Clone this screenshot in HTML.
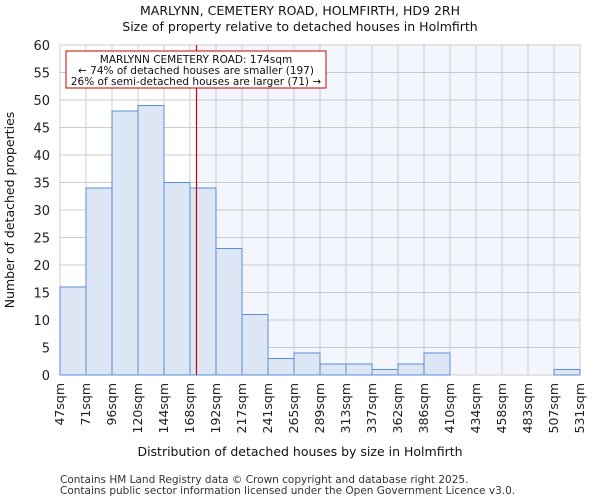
<!DOCTYPE html>
<html><head><meta charset="utf-8"><style>body{margin:0;background:#fff;font-family:"DejaVu Sans","Liberation Sans",sans-serif}</style></head>
<body>
<svg id="c" width="600" height="500" xmlns="http://www.w3.org/2000/svg" font-family="DejaVu Sans, Liberation Sans, sans-serif"></svg>
<script>
const categories=["47sqm","71sqm","96sqm","120sqm","144sqm","168sqm","192sqm","217sqm","241sqm","265sqm","289sqm","313sqm","337sqm","362sqm","386sqm","410sqm","434sqm","458sqm","483sqm","507sqm","531sqm"];
const binEdges=[47,71,96,120,144,168,192,217,241,265,289,313,337,362,386,410,434,458,483,507,531];
const counts=[16,34,48,49,35,34,23,11,3,4,2,2,1,2,4,0,0,0,0,1];
const yTicks=[0,5,10,15,20,25,30,35,40,45,50,55,60];
const marker=174;
const svg=document.getElementById('c');const NS="http://www.w3.org/2000/svg";
const L=60,R=580,T=45,B=375;
const x=i=>L+i*(R-L)/counts.length;
const xv=v=>{for(let i=0;i<binEdges.length-1;i++){if(v<=binEdges[i+1])return x(i)+(v-binEdges[i])/(binEdges[i+1]-binEdges[i])*(x(i+1)-x(i));}return R;};
const y=v=>B-v/60*(B-T);
function el(t,a,txt){const e=document.createElementNS(NS,t);for(const k in a)e.setAttribute(k,a[k]);if(txt!==undefined)e.textContent=txt;svg.appendChild(e);return e;}
const mx=xv(marker);
let e=el('rect',{x:mx,y:T,width:R-mx,height:B-T,fill:'#f3f6fd'});

yTicks.forEach(t=>{let g=el('line',{x1:L,x2:R,y1:y(t),y2:y(t),stroke:'#cccccc','stroke-width':1});
let l=el('text',{x:L-10,y:y(t)+5,'text-anchor':'end','font-size':13,fill:'#222'},t);});
categories.forEach((c,i)=>{let g=el('line',{x1:x(i),x2:x(i),y1:T,y2:B,stroke:'#cccccc','stroke-width':1});
let px=x(i)+4;let l=el('text',{x:px,y:B+8,'text-anchor':'end','font-size':12.5,fill:'#222',transform:`rotate(-90 ${px} ${B+8})`},c);});
counts.forEach((v,i)=>{if(v<=0)return;let b=el('rect',{x:x(i),y:y(v),width:x(i+1)-x(i),height:B-y(v),fill:'#dce6f5',stroke:'#5a8fd6','stroke-width':1});});
e=el('line',{x1:mx,x2:mx,y1:T,y2:B,stroke:'#cc0000','stroke-width':1.2});
e=el('rect',{x:66,y:51,width:260,height:37,fill:'#fff',stroke:'#cc0000','stroke-width':1});
[["MARLYNN CEMETERY ROAD: 174sqm",63],["← 74% of detached houses are smaller (197)",74],["26% of semi-detached houses are larger (71) →",85]].forEach(([t,yy])=>{let a=el('text',{x:196,y:yy,'text-anchor':'middle','font-size':10.5,fill:'#111'},t);});
e=el('text',{x:300,y:15,'text-anchor':'middle','font-size':12.5,fill:'#111'},"MARLYNN, CEMETERY ROAD, HOLMFIRTH, HD9 2RH");
e=el('text',{x:300,y:31,'text-anchor':'middle','font-size':12.5,fill:'#111'},"Size of property relative to detached houses in Holmfirth");
e=el('text',{x:300,y:456,'text-anchor':'middle','font-size':12.5,fill:'#111'},"Distribution of detached houses by size in Holmfirth");
e=el('text',{x:14,y:210,'text-anchor':'middle','font-size':12.5,fill:'#111',transform:'rotate(-90 14 210)'},"Number of detached properties");
e=el('text',{x:60,y:483,'font-size':10.5,fill:'#333'},"Contains HM Land Registry data © Crown copyright and database right 2025.");
e=el('text',{x:60,y:494,'font-size':10.5,fill:'#333'},"Contains public sector information licensed under the Open Government Licence v3.0.");
</script></body></html>
